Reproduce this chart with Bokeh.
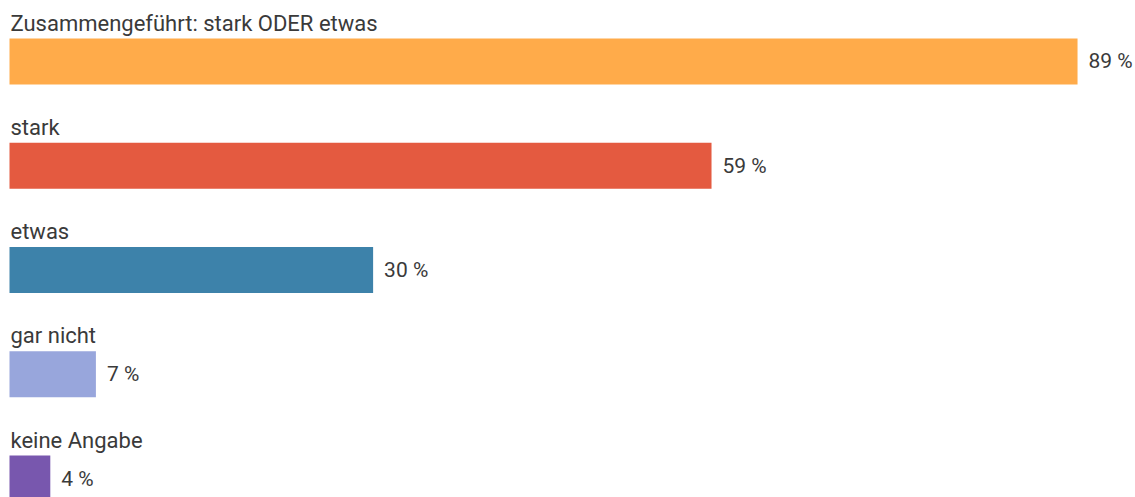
from bokeh.plotting import figure
from bokeh.models import ColumnDataSource, Range1d
from bokeh.core.properties import value
from bokeh.embed import file_html
from bokeh.resources import INLINE

categories = ["Zusammengeführt: stark ODER etwas", "stark", "etwas", "gar nicht", "keine Angabe"]
values = [89, 58.5, 30.3, 7.2, 3.4]
value_labels = ["89 %", "59 %", "30 %", "7 %", "4 %"]
colors = ["#ffab4a", "#e45a40", "#3d82aa", "#98a6dc", "#7857ae"]

idx = list(range(len(categories)))
bar_h = 0.441
src = ColumnDataSource(dict(
    y=idx, v=values, cat=categories, lab=value_labels, color=colors,
    top=[i - bar_h / 2 for i in idx],
))

p = figure(width=1135, height=497, output_backend="svg", toolbar_location=None,
           x_range=Range1d(-0.75, 93.83), y_range=Range1d(4.182, -0.585),
           min_border=0, outline_line_color=None)
p.axis.visible = False
p.grid.visible = False
p.background_fill_color = "white"
p.border_fill_color = "white"

p.hbar(y="y", left=0, right="v", height=bar_h, fill_color="color", line_color=None, source=src)

p.text(x=0, y="top", text="cat", source=src, text_baseline="bottom", text_align="left",
       y_offset=-3, x_offset=1, text_font=value("Roboto"), text_font_size="22px", text_color="#3a3a3a")
p.text(x="v", y="y", text="lab", source=src, text_baseline="middle", text_align="left",
       x_offset=11, text_font=value("Roboto"), text_font_size="21px", text_color="#3a3a3a")

open("out.html", "w").write(file_html(p, INLINE))
